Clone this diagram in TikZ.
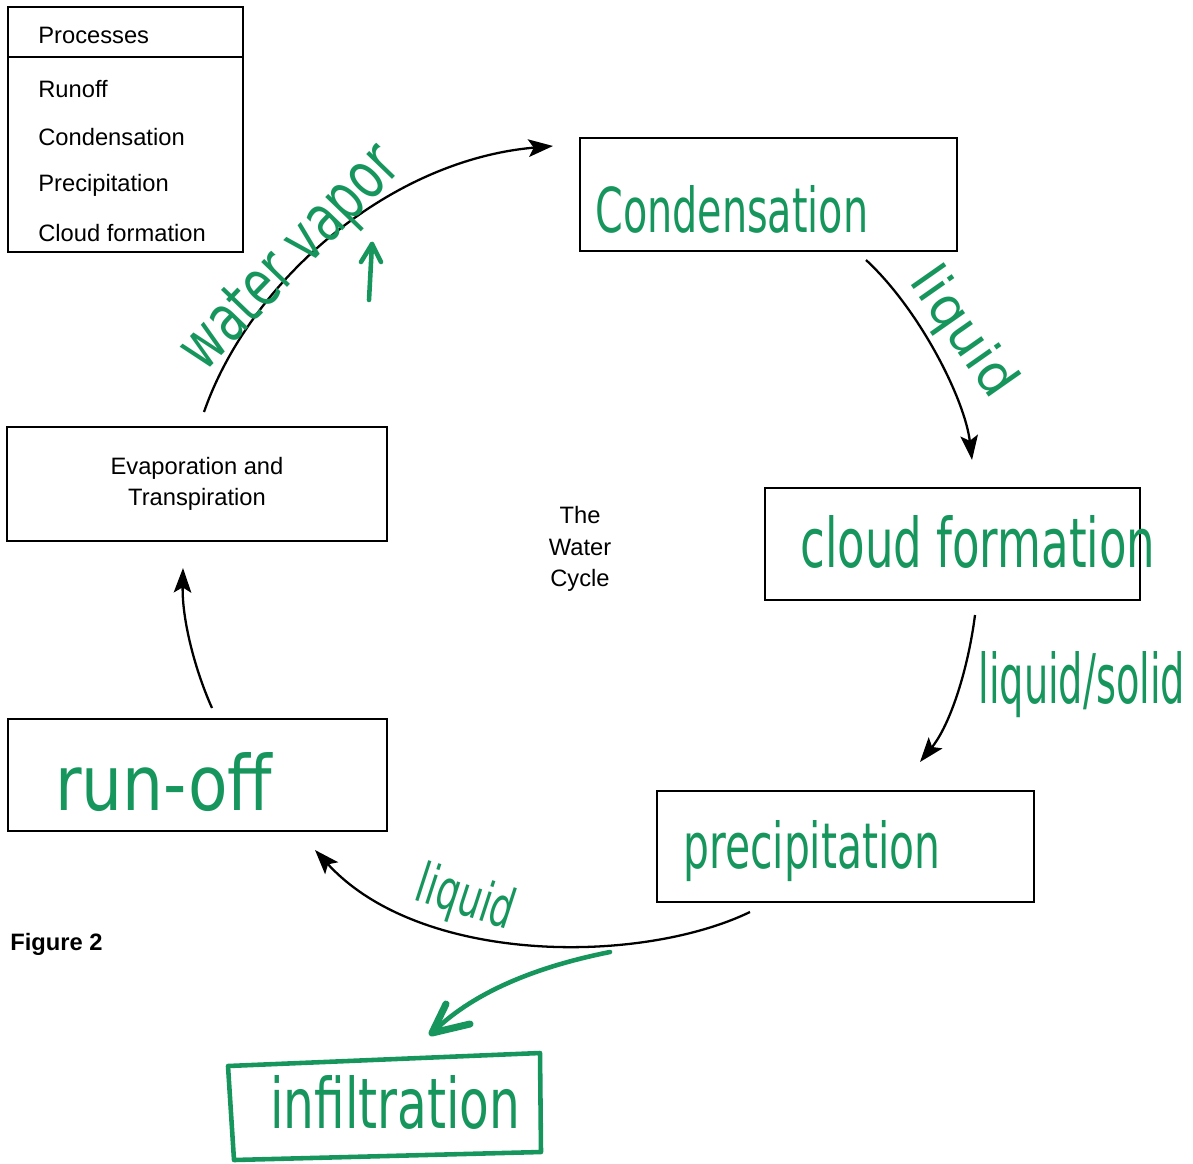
\documentclass[tikz,border=0pt]{standalone}
\usepackage{fontspec}
\setmainfont{Liberation Sans}
\newfontfamily\handfont{DejaVu Sans Condensed}
\usetikzlibrary{arrows.meta,calc}
\definecolor{pen}{RGB}{22,150,92}
\newdimen\unitpx \unitpx=0.02cm
\newcommand{\hw}[3]{\resizebox{#1\unitpx}{#2\unitpx}{\handfont #3}}
\tikzset{
  box/.style={draw, line width=0.9pt, inner sep=0pt},
  print/.style={font=\fontsize{13.5}{18}\selectfont, inner sep=0pt},
  hand/.style={text=pen, inner sep=0pt},
  flow/.style={line width=1.3pt, -{Stealth[length=14pt,width=10pt,inset=3pt]}},
  greenline/.style={draw=pen, line width=2.6pt, line cap=round, line join=round}
}
\begin{document}
\begin{tikzpicture}[x=0.02cm, y=-0.02cm]
\useasboundingbox (0,0) rectangle (1193,1163);
% legend
\node[box, minimum width=235\unitpx, minimum height=245\unitpx] (legend) at (125.5,129.5) {};
\draw[line width=0.9pt] (legend.north west) ++(0,51) coordinate (dl) -- (dl -| legend.east);
\node[print, anchor=west] (lh) at (38,35) {Processes};
\node[print, anchor=west] (l1) at (38,89) {Runoff};
\node[print, anchor=west] (l2) at (38,137) {Condensation};
\node[print, anchor=west] (l3) at (38,185) {Precipitation};
\node[print, anchor=west] (l4) at (38,233) {Cloud formation};
% boxes
\node[box, minimum width=377\unitpx, minimum height=113\unitpx] (cond) at (768.5,194.5) {};
\node[box, minimum width=375\unitpx, minimum height=112\unitpx] (cloud) at (952.5,544) {};
\node[box, minimum width=377\unitpx, minimum height=111\unitpx] (precip) at (845.5,846.5) {};
\node[box, minimum width=379\unitpx, minimum height=112\unitpx] (runoff) at (197.5,775) {};
\node[box, minimum width=380\unitpx, minimum height=114\unitpx, print, align=center] (evap) at (197,484) {Evaporation and\\Transpiration};
\node[print, align=center] (title) at (580,549) {The\\Water\\Cycle};
\node[print, anchor=west, font=\fontsize{13.5}{18}\selectfont\bfseries] (fig) at (10,944) {Figure 2};
% handwritten labels in boxes
\node[hand, anchor=base west] (tcond) at (595,232) {\hw{273}{47}{Condensation}};
\node[hand, anchor=base west] (tcloud) at (800,567) {\hw{355}{52}{cloud formation}};
\node[hand, anchor=base west] (tprecip) at (683,868) {\hw{257}{48}{precipitation}};
\node[hand, anchor=base west] (trun) at (55,810) {\hw{217}{58}{run-off}};
% infiltration box
\draw[greenline] (228,1066) -- (540,1053) -- (541,1152) -- (234,1160) -- cycle;
\node[hand, anchor=base west] (tinf) at (270,1128) {\hw{250}{53}{infiltration}};
% arrow end points
\coordinate (a1s) at (204,412); \coordinate (a1e) at (553,146);
\coordinate (a2s) at (866,260); \coordinate (a2e) at (972,460);
\coordinate (a3s) at (975,615); \coordinate (a3e) at (920,762);
\coordinate (a4s) at (750,912); \coordinate (a4e) at (315,850);
\coordinate (a6s) at (212,708); \coordinate (a6e) at (183,568);
\coordinate (g1s) at (610,952); \coordinate (g1e) at (432,1033);
% black arrows
\draw[flow] (a1s) .. controls (250,280) and (390,160) .. (a1e);
\draw[flow] (a2s) .. controls (920,310) and (965,400) .. (a2e);
\draw[flow] (a3s) .. controls (968,670) and (950,725) .. (a3e);
\draw[flow] (a4s) .. controls (640,965) and (420,965) .. (a4e);
\draw[flow] (a6s) .. controls (195,670) and (182,620) .. (a6e);
% handwritten arrow labels
\node[hand, rotate=46] (wv) at (292,260) {\hw{285}{46}{water vapor}};
\node[hand, rotate=-55] (lq1) at (962,333) {\hw{145}{40}{liquid}};
\node[hand, anchor=base west] (lq2) at (978,703) {\hw{207}{52}{liquid/solid}};
\node[hand, rotate=-18] (lq3) at (465,900) {\hw{100}{42}{liquid}};
% green small arrow
\coordinate (u1) at (369,300); \coordinate (u2) at (372,244);
\draw[greenline] (u1) -- (u2);
\draw[greenline] (361,262) -- (u2) -- (381,262);
% green infiltration arrow
\draw[greenline] (g1s) .. controls (530,968) and (470,995) .. (g1e);
\draw[greenline, line width=4pt] (446,1004) -- (g1e) -- (470,1024);
\end{tikzpicture}
\end{document}
